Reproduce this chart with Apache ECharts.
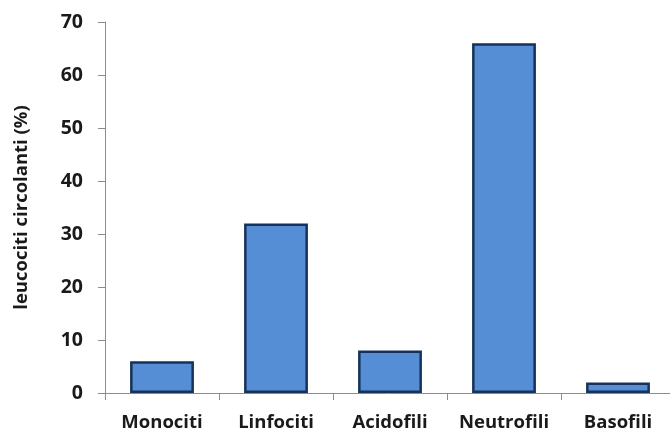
<!DOCTYPE html>
<html>
<head>
<meta charset="utf-8">
<script src="https://cdn.jsdelivr.net/npm/echarts@6/dist/echarts.min.js"></script>
<style>
  html, body { margin: 0; padding: 0; background: #fff; }
  #chart { width: 670px; height: 433px; }
</style>
</head>
<body>
<div id="chart"></div>
<script>
// Leucocyte distribution (percentages)
const categories = ['Monociti', 'Linfociti', 'Acidofili', 'Neutrofili', 'Basofili'];
const values = [6, 32, 8, 66, 2];
const yTicks = { min: 0, max: 70, interval: 10 };

const font = '"Open Sans", "Noto Sans", sans-serif';
const chart = echarts.init(document.getElementById('chart'));
chart.setOption({
  animation: false,
  grid: { left: 105, top: 22, width: 570, height: 371, containLabel: false, outerBoundsMode: 'none' },
  xAxis: {
    type: 'category',
    data: categories,
    axisLine: { lineStyle: { color: '#8c8c8c', width: 1 } },
    axisTick: { show: true, interval: 0, length: 7, lineStyle: { color: '#8c8c8c' } },
    axisLabel: { interval: 0, hideOverlap: false, color: '#1a1a1a', fontFamily: font, fontWeight: 'bold', fontSize: 18.5, margin: 20 }
  },
  yAxis: {
    type: 'value',
    min: yTicks.min, max: yTicks.max, interval: yTicks.interval,
    name: 'leucociti circolanti (%)',
    nameLocation: 'middle',
    nameGap: 74,
    nameRotate: 90,
    nameTextStyle: { color: '#1a1a1a', fontFamily: font, fontWeight: 'bold', fontSize: 18.5 },
    axisLine: { show: true, lineStyle: { color: '#8c8c8c', width: 1 } },
    axisTick: { show: true, length: 7, lineStyle: { color: '#8c8c8c' } },
    splitLine: { show: false },
    axisLabel: { color: '#1a1a1a', fontFamily: font, fontWeight: 'bold', fontSize: 19.5, margin: 22 }
  },
  series: [{
    type: 'bar',
    data: values,
    barWidth: '56%',
    itemStyle: { color: '#558ed5', borderColor: '#17325a', borderWidth: 2.5 }
  }]
});
</script>
</body>
</html>
